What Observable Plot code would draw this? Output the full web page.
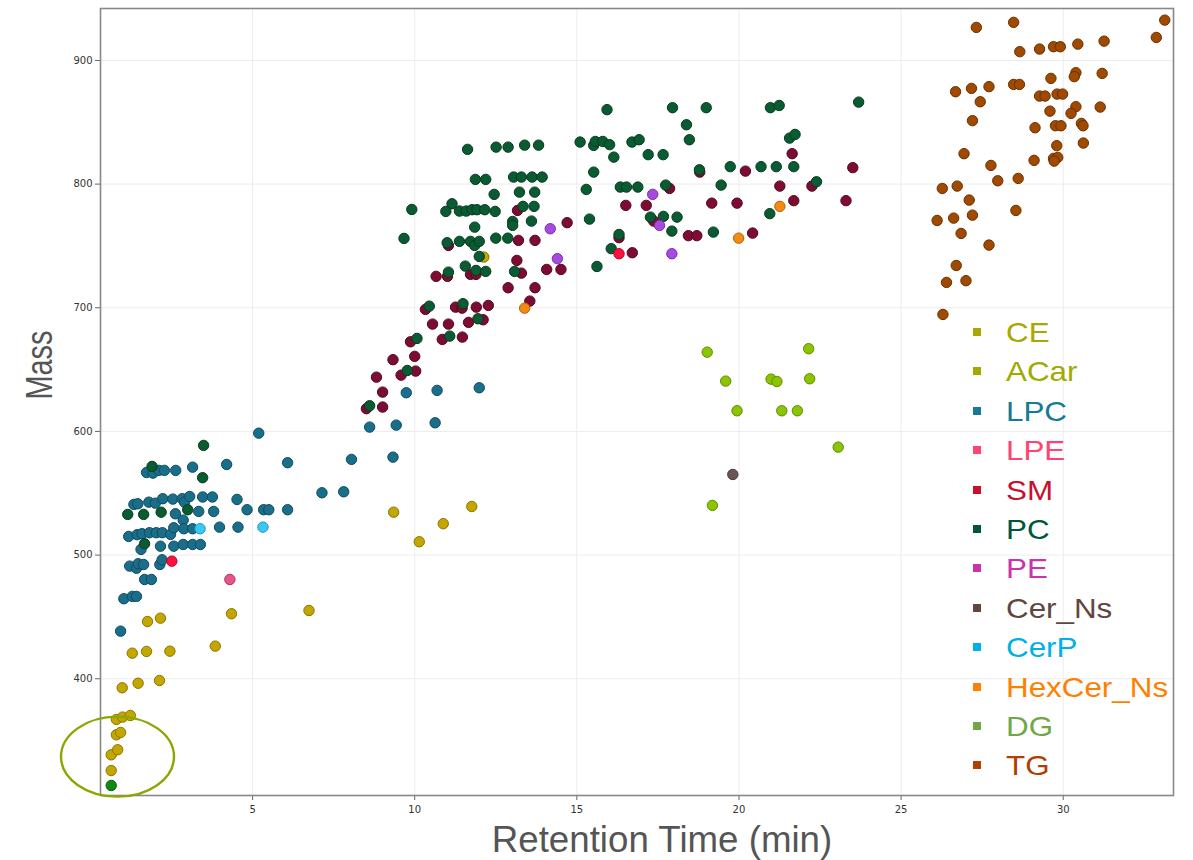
<!DOCTYPE html>
<html><head><meta charset="utf-8">
<script src="https://cdn.jsdelivr.net/npm/d3@7"></script>
<script src="https://cdn.jsdelivr.net/npm/@observablehq/plot@0.6"></script>
<style>
body{margin:0;background:#fff;}
#wrap{position:relative;width:1193px;height:860px;overflow:hidden;}
.lg-sw{position:absolute;width:8px;height:8px;}
.lg-tx{position:absolute;font-family:"Liberation Sans",Arial,sans-serif;font-size:28px;line-height:40px;height:40px;white-space:nowrap;transform:scaleX(1.12);transform-origin:left center;}
</style></head><body><div id="wrap"></div><script>
// ---- data: [retention time (min), mass] ----
const ACar = [[0.64,325.8],[0.64,338.5],[0.84,342.6],[0.80,354.7],[0.93,356.6],[0.80,367.1],[0.99,369.0],[1.23,370.3],[0.98,392.7],[1.47,396.4],[2.13,398.6],[1.29,420.7],[1.73,422.1],[2.45,422.3],[3.85,426.4],[1.76,446.3],[2.16,449.0],[4.35,452.6],[6.74,455.2],[9.35,534.7],[10.14,510.8],[10.88,525.4],[11.76,539.3],[12.13,741.0]];
const OtherGreen = [[0.64,313.7]];
const LPC = [[0.93,438.5],[5.19,598.6],[1.73,566.8],[1.93,566.3],[2.11,568.5],[2.28,568.5],[2.63,568.5],[3.15,571.1],[4.20,573.3],
 [1.34,541.0],[1.46,541.5],[1.80,542.8],[2.00,542.0],[2.23,545.6],[2.54,545.3],[2.83,545.6],[2.90,542.8],[3.06,547.4],[3.46,547.0],[3.76,547.0],[4.52,545.0],
 [2.62,533.4],[2.86,528.3],[3.34,535.3],[3.80,535.3],[4.83,536.7],[5.34,536.7],[5.50,536.7],[6.08,536.7],
 [1.18,515.1],[1.44,516.5],[1.59,517.3],[1.82,518.1],[2.03,518.1],[2.22,518.1],[2.47,516.7],[2.57,522.1],[2.88,521.3],[3.15,521.3],[3.98,522.6],[4.55,522.6],
 [1.56,504.6],[2.16,507.2],[2.57,507.2],[2.86,508.6],[3.15,508.6],[3.39,508.6],
 [1.21,491.1],[1.42,489.4],[1.47,493.0],[1.64,492.4],[2.14,492.4],[2.21,496.2],
 [1.67,480.3],[1.88,480.3],[1.03,464.7],[1.29,466.6],[1.42,466.6],
 [6.08,574.7],[7.14,550.4],[7.81,551.2],[8.05,577.4],
 [9.74,631.3],[10.69,633.2],[11.99,635.3],[8.61,603.5],[9.43,605.1],[10.63,607.0],[9.33,579.2]];
const CerP = [[3.38,521.3],[5.32,522.6]];
const LPE = [[4.30,480.3]];
const OtherRed = [[2.51,495.1],[16.30,743.7]];
const Cer_Ns = [[19.81,565.2]];
const DG = [[19.18,540.2],[19.02,664.1],[22.15,666.9],[19.59,640.7],[20.99,642.3],[21.17,640.4],[22.18,642.6],[19.94,616.7],[21.32,616.7],[21.80,616.7],[23.06,587.3]];
const HexCer_Ns = [[13.39,699.7],[21.26,782.0],[19.99,756.3]];
const PE = [[14.18,763.9],[14.40,739.7],[17.34,791.7],[17.55,766.6],[17.93,743.7]];
const SM = [[12.88,716.2],[13.71,716.2],[13.55,705.4],[10.33,698.7],[11.26,700.5],[11.46,699.7],[11.90,700.5],[12.27,701.9],[12.11,690.3],[10.55,686.8],[11.04,686.8],[11.66,688.2],[9.87,672.5],[10.85,674.4],[11.47,676.3],[10.00,660.7],[9.33,658.0],[10.03,648.8],[9.58,645.5],[8.82,643.9],[9.01,631.8],[9.01,619.7],[8.51,618.4],
 [13.17,778.7],[14.70,768.8],[11.04,750.4],[13.20,754.5],[13.71,754.5],[13.15,738.3],[14.07,731.0],[14.51,731.0],[13.29,728.0],[11.72,727.0],[11.89,727.0],[10.66,725.4],[11.01,725.4],
 [17.86,796.5],[18.79,809.7],[20.20,810.5],[21.64,824.6],[23.51,813.3],[21.26,798.4],[22.25,798.4],[21.69,786.6],[23.30,786.6],[19.16,784.6],[19.94,784.6],[16.51,782.8],[17.14,782.8],[17.37,770.1],[18.44,758.3],[18.70,758.3],[20.42,760.4],[16.30,756.7],[16.71,744.5]];
const PC = [[3.49,588.7],[1.90,571.7],[3.46,562.6],[1.15,532.9],[1.64,532.9],[2.18,534.7],[3.00,536.7],[1.67,509.2],
 [10.45,701.3],[11.49,703.3],[11.95,691.1],[10.07,675.2],[11.08,677.1],[9.77,649.3],[8.61,620.8],
 [11.63,828.1],[12.51,829.9],[12.88,829.9],[13.39,831.5],[13.82,831.5],[11.87,803.8],[12.19,803.8],[13.05,805.7],[13.29,805.7],[13.62,805.7],[13.93,805.7],[12.45,791.7],[13.23,793.5],[13.70,793.5],[9.91,779.5],[11.15,784.1],[10.96,777.9],[11.38,778.2],[11.59,778.2],[11.77,779.3],[11.92,779.3],[12.16,779.3],[12.48,777.9],[13.34,782.0],[13.68,782.0],[13.02,769.8],[13.02,766.6],[13.60,770.1],[9.67,756.1],[11.00,752.6],[11.38,753.7],[11.72,753.7],[11.85,750.4],[11.99,753.7],[12.50,756.3],[12.87,756.3],[11.85,765.2],[11.99,741.5],[11.56,733.7],[13.08,729.4],[11.89,730.2],[12.19,729.4],[11.04,728.8],
 [15.93,860.2],[17.95,861.8],[18.99,861.8],[20.97,861.8],[21.24,863.6],[23.69,866.3],[18.38,848.0],[18.47,835.9],[15.10,834.0],[15.52,831.3],[15.57,834.5],[15.80,834.5],[16.01,831.9],[16.70,834.0],[16.92,835.9],[16.14,821.8],[17.20,823.8],[17.66,823.8],[15.52,809.7],[15.29,795.7],[16.34,797.6],[16.53,797.6],[16.88,797.6],[17.74,799.2],[18.78,811.6],[19.73,814.1],[20.68,814.1],[21.15,814.1],[21.69,814.1],[21.56,837.2],[21.73,840.2],[19.45,799.2],[22.39,801.9],[17.27,773.3],[17.67,773.9],[18.09,773.3],[17.93,762.0],[19.21,761.2],[20.95,776.1],[15.39,771.7],[16.30,759.3],[16.06,747.8],[15.62,733.4]];
const TG = [[33.13,932.6],[32.87,918.6],[28.47,930.8],[27.32,926.7],[28.66,907.1],[29.27,909.2],[29.70,911.1],[29.91,911.1],[30.45,913.2],[31.26,915.6],[30.39,890.1],[30.34,886.9],[31.20,889.5],[29.62,885.5],[26.68,874.7],[27.17,877.4],[27.71,878.8],[28.47,880.6],[28.65,880.6],[27.44,866.6],[29.27,871.2],[29.44,871.2],[29.81,872.8],[29.98,872.8],[30.39,862.6],[30.24,857.2],[31.14,862.3],[29.59,859.0],[27.20,851.3],[29.13,845.6],[29.76,847.2],[29.93,847.2],[30.56,849.1],[30.61,847.2],[30.62,833.2],[29.80,831.1],[29.70,820.8],[29.83,821.6],[29.72,818.6],[29.10,819.2],[26.94,824.6],[27.77,815.1],[27.98,802.7],[28.61,804.6],[26.27,796.5],[26.73,798.4],[27.10,787.1],[26.62,772.5],[26.11,770.6],[27.20,774.9],[28.54,778.7],[26.85,760.1],[27.71,750.7],[26.70,734.2],[26.40,720.5],[27.00,721.9],[26.29,694.6]];

// series drawing order and point colours [fill, stroke]
const series = [
  ["ACar", ACar, "#c4a600", "#8a7600"],
  ["DG", DG, "#8cc400", "#5e8c00"],
  ["TG", TG, "#a04a00", "#6a2f00"],
  ["LPC", LPC, "#1a6e8a", "#0e4c62"],
  ["SM", SM, "#7c0c32", "#54061f"],
  ["PC", PC, "#0a5a32", "#053c20"],
  ["PE", PE, "#a64ae0", "#7a2cb0"],
  ["HexCer_Ns", HexCer_Ns, "#f28a14", "#b46200"],
  ["CerP", CerP, "#3cc8f5", "#1a98c6"],
  ["LPE", LPE, "#e8558c", "#b03060"],
  ["Other red", OtherRed, "#ff1040", "#c00024"],
  ["Cer_Ns", Cer_Ns, "#6a5454", "#4a3838"],
  ["Other green", OtherGreen, "#0c8a14", "#05600a"]
];

// legend
const legendLabels = ["CE","ACar","LPC","LPE","SM","PC","PE","Cer_Ns","CerP","HexCer_Ns","DG","TG"];
const legendColors = ["#a8a800","#a0aa00","#147a96","#ff4472","#c8102e","#00553a","#cc33aa","#60463f","#00b0e8","#ff8000","#70a848","#b04000"];

// axis ticks
const xTicks = [5,10,15,20,25,30];
const yTicks = [400,500,600,700,800,900];

// highlighted region (annotation ellipse centre)
const highlight = {rt: 0.85, mass: 336.6};

const marks = [
  Plot.gridX(xTicks, {stroke: "#ececec", strokeOpacity: 1, strokeWidth: 1}),
  Plot.gridY(yTicks, {stroke: "#ececec", strokeOpacity: 1, strokeWidth: 1}),
  Plot.axisX(xTicks, {tickSize: 5, tickPadding: 5, stroke: "#666", fill: "#333", fontSize: 10, label: null}),
  Plot.axisY(yTicks, {tickSize: 5, tickPadding: 3, stroke: "#666", fill: "#333", fontSize: 10, label: null})
];
for (const [name, data, fill, stroke] of series) {
  marks.push(Plot.dot(data, {x: d => d[0], y: d => d[1], r: 5.2, fill, stroke, strokeWidth: 1, fillOpacity: 1}));
}
marks.push(Plot.frame({stroke: "#888", strokeWidth: 1.6}));
marks.push((index, scales) => {
  const e = document.createElementNS("http://www.w3.org/2000/svg", "ellipse");
  e.setAttribute("cx", scales.x(highlight.rt));
  e.setAttribute("cy", scales.y(highlight.mass));
  e.setAttribute("rx", 56.5);
  e.setAttribute("ry", 40);
  e.setAttribute("fill", "none");
  e.setAttribute("stroke", "#8aa800");
  e.setAttribute("stroke-width", 2.4);
  return e;
});
marks.push(Plot.text(["Retention Time (min)"], {frameAnchor: "bottom", dx: 25, dy: 45, lineAnchor: "middle", textAnchor: "middle", fontSize: 36.7, fill: "#555", fontFamily: "Liberation Sans"}));
marks.push(Plot.text(["Mass"], {frameAnchor: "left", dx: -60.5, dy: -37, rotate: -90, lineAnchor: "middle", textAnchor: "middle", fontSize: 37, fill: "#555", fontFamily: "Liberation Sans"}));

const chart = Plot.plot({
  width: 1193, height: 860,
  marginLeft: 100, marginRight: 20, marginTop: 8, marginBottom: 65,
  style: {fontFamily: "DejaVu Sans", background: "#fff", overflow: "visible"},
  x: {domain: [0.31, 33.4]},
  y: {domain: [305.6, 942]},
  marks
});
const wrap = document.getElementById("wrap");
wrap.appendChild(chart);
// condensed y title
d3.select(chart).selectAll("text").filter(function(){ return this.textContent === "Mass"; })
  .attr("textLength", 69).attr("lengthAdjust", "spacingAndGlyphs");

legendLabels.forEach((lab, i) => {
  const cy = 333 + i * 39.4;
  const sw = document.createElement("div");
  sw.className = "lg-sw";
  sw.style.left = "973px"; sw.style.top = (cy - 5) + "px"; sw.style.background = legendColors[i];
  wrap.appendChild(sw);
  const tx = document.createElement("div");
  tx.className = "lg-tx";
  tx.style.left = "1006px"; tx.style.top = (cy - 20) + "px"; tx.style.color = legendColors[i];
  tx.textContent = lab;
  wrap.appendChild(tx);
});
</script></body></html>
